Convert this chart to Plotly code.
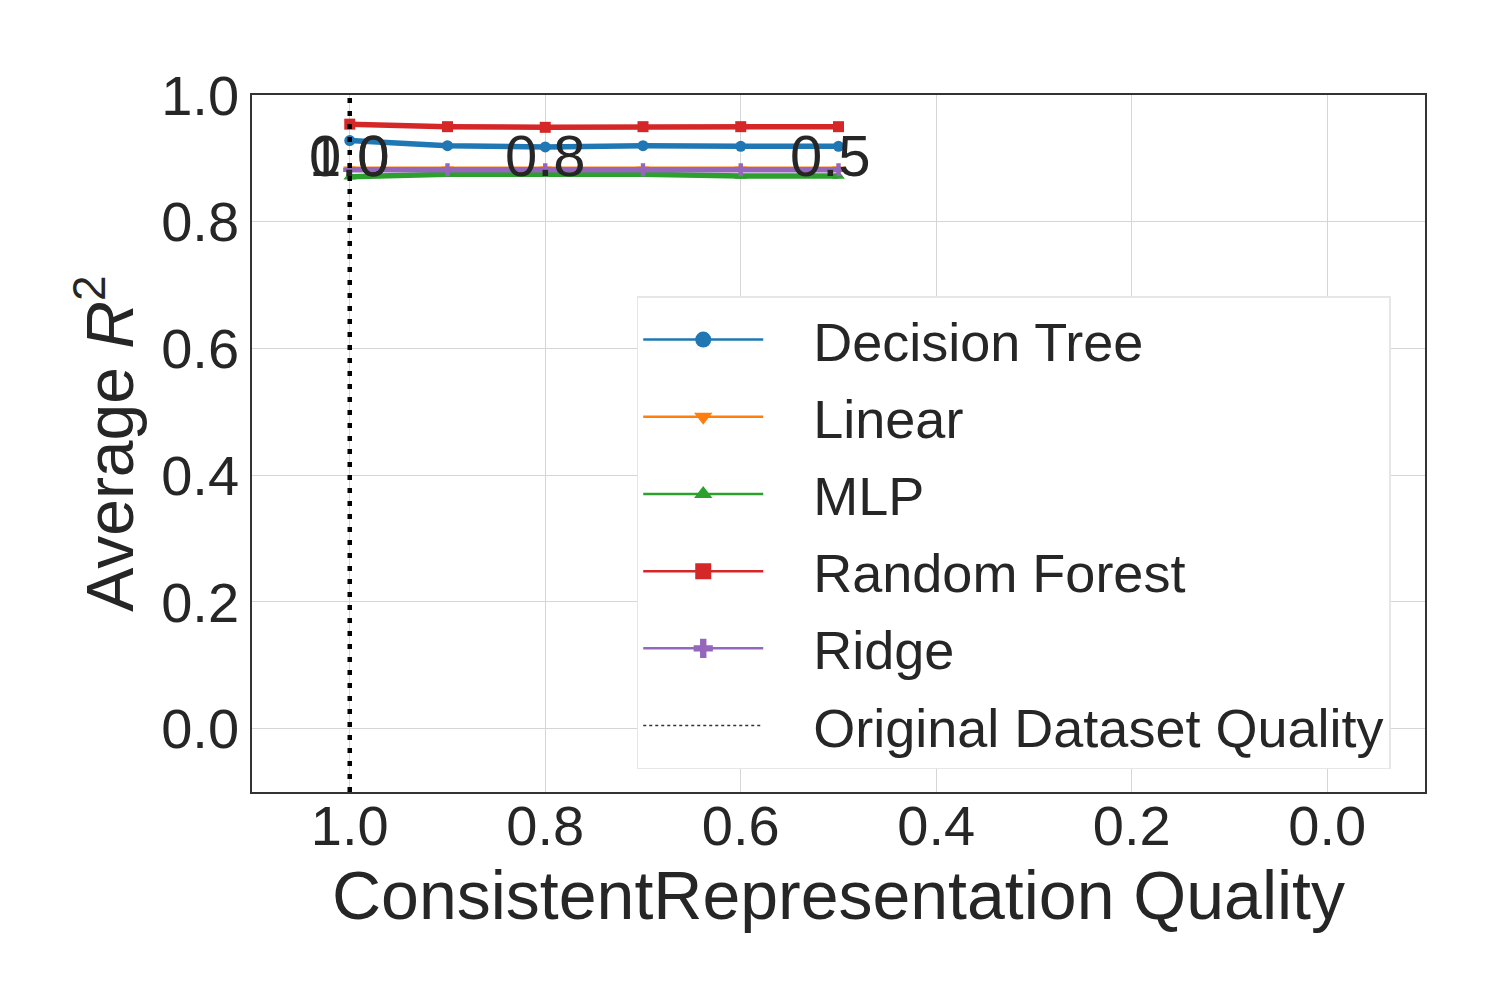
import plotly.graph_objects as go

quality = [1.0, 0.9, 0.8, 0.7, 0.6, 0.5]
decision_tree = [0.928, 0.920, 0.918, 0.920, 0.919, 0.919]
linear = [0.883, 0.883, 0.883, 0.883, 0.883, 0.883]
mlp = [0.871, 0.875, 0.875, 0.875, 0.872, 0.872]
random_forest = [0.954, 0.950, 0.949, 0.950, 0.950, 0.950]
ridge = [0.882, 0.882, 0.882, 0.882, 0.882, 0.882]
original_quality = 1.0

x_ticks = [1.0, 0.8, 0.6, 0.4, 0.2, 0.0]
y_ticks = [0.0, 0.2, 0.4, 0.6, 0.8, 1.0]
inner_labels = [(1.0, "1.0"), (1.0, "0.0"), (0.8, "0.8"), (0.5, "0.5")]
inner_label_y = 0.905

series = [
    ("Decision Tree", decision_tree, "#1f77b4", "circle"),
    ("Linear", linear, "#ff7f0e", "triangle-down"),
    ("MLP", mlp, "#2ca02c", "triangle-up"),
    ("Random Forest", random_forest, "#d62728", "square"),
    ("Ridge", ridge, "#9467bd", "cross"),
]

FONT = "Liberation Sans, Arial, sans-serif"
TXT = "#262626"
PAD = "\u00a0\u00a0\u00a0"

fig = go.Figure()
for i, (name, vals, color, sym) in enumerate(series):
    fig.add_trace(go.Scatter(
        x=quality, y=vals, name=name, mode="lines+markers",
        line=dict(color=color, width=5.5),
        marker=dict(color=color, symbol=sym, size=11),
        legendgroup=f"g{i}", showlegend=False,
    ))

# vertical dotted line for original dataset quality
fig.add_trace(go.Scatter(
    x=[original_quality, original_quality], y=[-0.1, 1.0], mode="lines",
    line=dict(color="black", width=4.5, dash="5px,8px"),
    showlegend=False, hoverinfo="skip", legendgroup="g5",
))

# legend entries (thin line, large marker as in the reference legend)
for i, (name, vals, color, sym) in enumerate(series):
    fig.add_trace(go.Scatter(
        x=[None], y=[None], name=PAD + name, mode="lines+markers",
        line=dict(color=color, width=2.5),
        marker=dict(color=color, symbol=sym, size=16),
        legendgroup=f"g{i}",
    ))
fig.add_trace(go.Scatter(
    x=[None], y=[None], mode="lines", name=PAD + "Original Dataset Quality",
    line=dict(color="#333333", width=1.5, dash="dot"), legendgroup="g5",
))

for xv, txt in inner_labels:
    fig.add_annotation(
        x=xv, y=inner_label_y, text=txt, showarrow=False,
        xshift=-8 if xv == 0.5 else 0,
        font=dict(family=FONT, size=58, color=TXT),
    )

fig.update_layout(
    width=1500, height=1000,
    margin=dict(l=244, r=83, t=87, b=216),
    paper_bgcolor="white", plot_bgcolor="white",
    font=dict(family=FONT, color=TXT),
    legend=dict(
        x=0.328, y=0.711, xanchor="left", yanchor="top",
        bgcolor="white", bordercolor="#e6e6e6", borderwidth=1.5,
        font=dict(family=FONT, size=54, color=TXT),
        itemwidth=120, tracegroupgap=4,
    ),
)
fig.update_xaxes(
    range=[1.1, -0.1], tickvals=x_ticks, ticktext=[f"{v:.1f}" for v in x_ticks],
    showgrid=True, gridcolor="#d5d5d5", gridwidth=1, zeroline=False,
    showline=True, linecolor="#333333", linewidth=1.5, mirror=True,
    ticks="", tickfont=dict(family=FONT, size=56, color=TXT),
    ticklabelstandoff=-16,
    title=dict(text="ConsistentRepresentation Quality", standoff=2,
               font=dict(family=FONT, size=68, color=TXT)),
)
fig.update_yaxes(
    range=[-0.1, 1.0], tickvals=y_ticks, ticktext=[f"{v:.1f}" for v in y_ticks],
    showgrid=True, gridcolor="#d5d5d5", gridwidth=1, zeroline=False,
    showline=True, linecolor="#333333", linewidth=1.5, mirror=True,
    ticks="", tickfont=dict(family=FONT, size=56, color=TXT),
    title=dict(text="Average <i>R</i><sup>2</sup>", standoff=6,
               font=dict(family=FONT, size=66, color=TXT)),
)

fig.write_html("out.html")
